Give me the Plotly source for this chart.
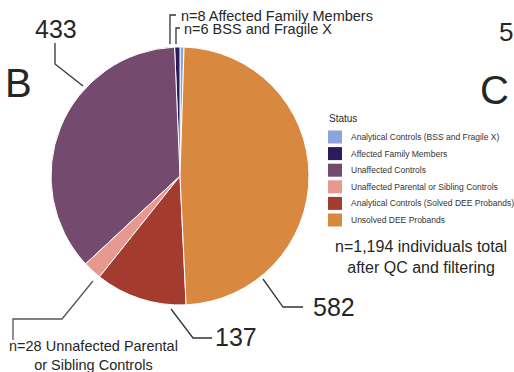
import plotly.graph_objects as go

W, H = 514, 372

# ---- data ----
categories = [
    "Analytical Controls (BSS and Fragile X)",
    "Affected Family Members",
    "Unaffected Controls",
    "Unaffected Parental or Sibling Controls",
    "Analytical Controls (Solved DEE Probands)",
    "Unsolved DEE Probands",
]
counts = [6, 8, 433, 28, 137, 582]
colors = ["#8BA5DA", "#2B1B5C", "#744A6E", "#E79890", "#A33B2E", "#D9893F"]
legend_title = "Status"
total_label = "n=1,194 individuals total<br>after QC and filtering"


def px(x):
    return x / W


def py(y):
    return 1 - y / H


# pie geometry (pixels): centre (180,176), radius 129
cx, cy, r = 180, 176, 129

fig = go.Figure()
fig.add_trace(go.Pie(
    labels=categories,
    values=counts,
    marker=dict(colors=colors, line=dict(color="white", width=1)),
    sort=False,
    direction="counterclockwise",
    rotation=0,
    textinfo="none",
    hoverinfo="label+value",
    domain=dict(x=[px(cx - r), px(cx + r)], y=[py(cy + r), py(cy - r)]),
    showlegend=False,
))

txt = "#262626"
font_family = "Liberation Sans, Arial, sans-serif"

annotations = []
shapes = []


def ann(x, y, text, size, xanchor="center", yanchor="middle", align="center", color=txt):
    annotations.append(dict(
        x=px(x), y=py(y), xref="paper", yref="paper", text=text, showarrow=False,
        xanchor=xanchor, yanchor=yanchor, align=align,
        font=dict(size=size, color=color, family=font_family),
    ))


ann(18, 83, "B", 40)
ann(494, 90, "C", 40)
ann(497, 32, "5", 26, xanchor="left")
ann(56, 29, str(counts[2]), 25)
ann(311, 307, str(counts[5]), 25, xanchor="left")
ann(213, 337, str(counts[4]), 25, xanchor="left")
ann(179, 16, "n=%d Affected Family Members" % counts[1], 14.5, xanchor="left")
ann(182, 29, "n=%d BSS and Fragile X" % counts[0], 14.5, xanchor="left")
ann(93, 355, "n=%d Unnafected Parental<br>or Sibling Controls" % counts[3], 14.5)
ann(421, 257, total_label, 16)

# legend (drawn as swatches + labels, one per category)
ann(327, 119, legend_title, 10, xanchor="left")
for i, (name, col) in enumerate(zip(categories, colors)):
    yc = 137 + 16.6 * i
    shapes.append(dict(type="rect", xref="paper", yref="paper",
                       x0=px(328), x1=px(342), y0=py(yc + 6.5), y1=py(yc - 6.5),
                       fillcolor=col, line=dict(width=0)))
    ann(349, yc, name, 8.5, xanchor="left", color="#333333")


def poly(points, color="#333333", width=1.3):
    path = "M " + " L ".join("%.4f,%.4f" % (px(x), py(y)) for x, y in points)
    shapes.append(dict(type="path", path=path, xref="paper", yref="paper",
                       line=dict(color=color, width=width)))


poly([(55, 43), (55, 64), (83, 86)])
poly([(263, 279), (283, 307), (303, 307)])
poly([(171, 309), (193, 338), (212, 338)])
poly([(93, 281), (62, 319), (13, 319), (13, 340)], color="#555555")
poly([(176, 15), (170, 15), (170, 44)])
poly([(180, 28), (176, 28), (176, 44)])

fig.update_layout(
    width=W, height=H,
    margin=dict(l=0, r=0, t=0, b=0),
    paper_bgcolor="white",
    plot_bgcolor="white",
    annotations=annotations,
    shapes=shapes,
    showlegend=False,
)

fig.write_html("out.html")
